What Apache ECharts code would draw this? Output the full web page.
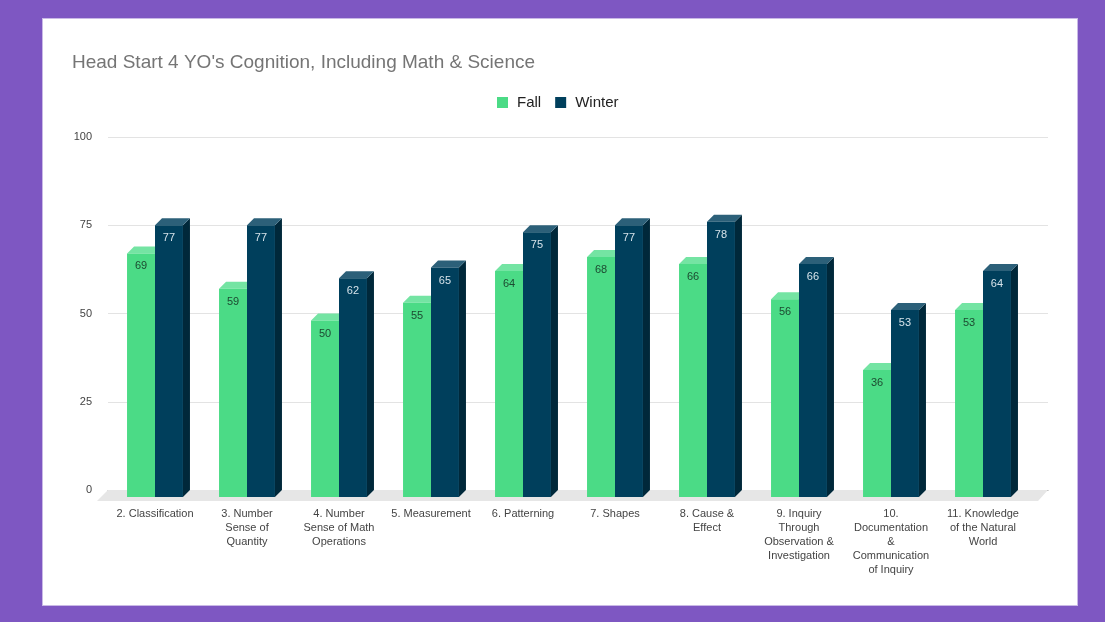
<!DOCTYPE html>
<html>
<head>
<meta charset="utf-8">
<script src="https://cdn.jsdelivr.net/npm/echarts@6/dist/echarts.min.js"></script>
<style>
  html, body { margin: 0; padding: 0; width: 1105px; height: 622px; background: #7E57C2; overflow: hidden; }
  #panel { position: absolute; left: 42px; top: 18px; width: 1034px; height: 586px; background: #ffffff; border: 1px solid #c9b9e6; }
  #chart { position: absolute; left: 0; top: 0; width: 1105px; height: 622px; }
</style>
</head>
<body>
<div id="panel"></div>
<div id="chart"></div>
<script>
const title = "Head Start 4 YO's Cognition, Including Math & Science";
const categories = [
  "2. Classification",
  "3. Number\nSense of\nQuantity",
  "4. Number\nSense of Math\nOperations",
  "5. Measurement",
  "6. Patterning",
  "7. Shapes",
  "8. Cause &\nEffect",
  "9. Inquiry\nThrough\nObservation &\nInvestigation",
  "10.\nDocumentation\n&\nCommunication\nof Inquiry",
  "11. Knowledge\nof the Natural\nWorld"
];
const fallValues = [69, 59, 50, 55, 64, 68, 66, 56, 36, 53];
const winterValues = [77, 77, 62, 65, 75, 77, 78, 66, 53, 64];
const yTicks = [0, 25, 50, 75, 100];

const FONT = '"Liberation Sans", Arial, sans-serif';
const D = 7; // 3D depth offset

const palette = {
  Fall:   { front: '#4BDB86', top: '#74E4A3', side: '#2FA862', label: '#1d4a31' },
  Winter: { front: '#003F5C', top: '#2C6079', side: '#00283A', label: '#d6e3ea' }
};

function make3DSeries(name, values, sideIdx) {
  const c = palette[name];
  return {
    name: name,
    type: 'custom',
    xAxisIndex: 1, yAxisIndex: 1,
    data: values.map((v, i) => [i, v]),
    encode: { x: 0, y: 1 },
    itemStyle: { color: c.front },
    z: 3 + sideIdx,
    renderItem: function (params, api) {
      const idx = api.value(0);
      const val = api.value(1);
      const top = api.coord([idx, val]);
      const base = api.coord([idx, 0]);
      const band = api.size([1, 0])[0];
      const bw = band * 0.304;
      const x1 = sideIdx === 0 ? top[0] - bw : top[0];
      const x2 = x1 + bw;
      const yt = top[1] + D, yb = base[1] + D;
      return {
        type: 'group',
        children: [
          { type: 'polygon', shape: { points: [[x2, yt], [x2 + D, yt - D], [x2 + D, yb - D], [x2, yb]] }, style: { fill: c.side } },
          { type: 'polygon', shape: { points: [[x1, yt], [x1 + D, yt - D], [x2 + D, yt - D], [x2, yt]] }, style: { fill: c.top } },
          { type: 'rect', shape: { x: x1, y: yt, width: bw, height: yb - yt }, style: { fill: c.front } },
          { type: 'text', style: { text: String(val), x: (x1 + x2) / 2, y: yt + 13, align: 'center', verticalAlign: 'middle', fill: c.label, font: '11px ' + FONT } }
        ]
      };
    }
  };
}

const chart = echarts.init(document.getElementById('chart'), null, { renderer: 'canvas' });
chart.setOption({
  animation: false,
  title: {
    text: title, left: 67, top: 48,
    textStyle: { fontFamily: FONT, fontSize: 19, fontWeight: 'normal', color: '#757575' }
  },
  legend: {
    data: [
      { name: 'Fall', itemStyle: { color: palette.Fall.front } },
      { name: 'Winter', itemStyle: { color: palette.Winter.front } }
    ],
    left: 492, top: 90,
    itemWidth: 11, itemHeight: 11, itemGap: 14,
    icon: 'rect',
    textStyle: { fontFamily: FONT, fontSize: 15, color: '#222222', padding: [0, 0, 0, 4] }
  },
  grid: [
    { left: 108, right: 57, top: 137, bottom: 132 },
    { left: 109, right: 76, top: 137, bottom: 132 }
  ],
  xAxis: [
    { type: 'value', gridIndex: 0, min: 0, max: 1, show: true,
      axisLine: { show: true, lineStyle: { color: '#9e9e9e', width: 1 } },
      axisTick: { show: false }, axisLabel: { show: false }, splitLine: { show: false } },
    { type: 'category', gridIndex: 1, data: categories, boundaryGap: true,
      axisLine: { show: false }, axisTick: { show: false }, splitLine: { show: false },
      axisLabel: { interval: 0, margin: 17, lineHeight: 14, fontFamily: FONT, fontSize: 11, color: '#444444' } }
  ],
  yAxis: [
    { type: 'value', gridIndex: 0, min: yTicks[0], max: yTicks[yTicks.length - 1], interval: 25,
      axisLine: { show: false }, axisTick: { show: false },
      axisLabel: { margin: 16, fontFamily: FONT, fontSize: 11, color: '#444444' },
      splitLine: { lineStyle: { color: '#e3e3e3', width: 1 } } },
    { type: 'value', gridIndex: 1, min: yTicks[0], max: yTicks[yTicks.length - 1], interval: 25, show: false }
  ],
  series: [
    {
      name: 'floor', type: 'custom', xAxisIndex: 0, yAxisIndex: 0, z: 1, silent: true,
      data: [[0, 0]],
      itemStyle: { color: '#e6e6e6' },
      renderItem: function (params, api) {
        const cs = params.coordSys;
        const y0 = api.coord([0, 0])[1];
        const x0 = cs.x, x1 = cs.x + cs.width;
        return { type: 'polygon', shape: { points: [[x0, y0], [x1, y0], [x1 - 10, y0 + 11], [x0 - 11, y0 + 11]] }, style: { fill: '#e6e6e6' } };
      }
    },
    make3DSeries('Fall', fallValues, 0),
    make3DSeries('Winter', winterValues, 1)
  ]
});
</script>
</body>
</html>
